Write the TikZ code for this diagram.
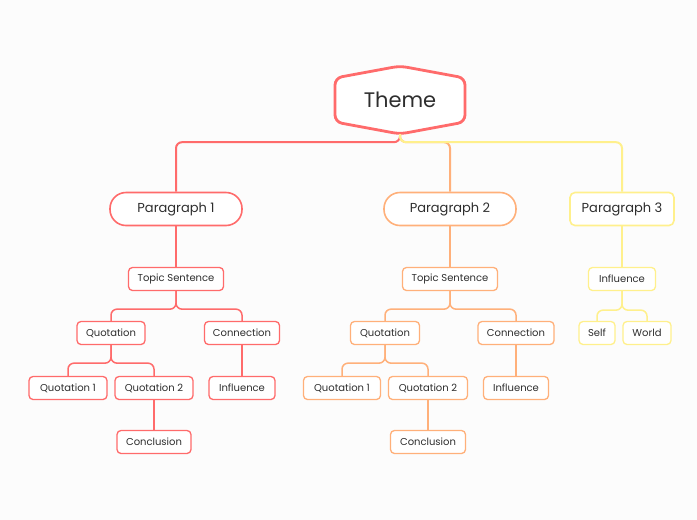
\documentclass[tikz,border=0pt]{standalone}
\usepackage{fontspec}
\setmainfont{Poppins}
\usetikzlibrary{calc}

\definecolor{themered}{HTML}{FF6B6B}
\definecolor{parorange}{HTML}{FFB07A}
\definecolor{paryellow}{HTML}{FFF08C}
\definecolor{inktext}{HTML}{2E2E2E}
\definecolor{canvas}{HTML}{FCFCFC}

\tikzset{
  topic/.style={fill=white, line width=1.6pt, rounded corners=16pt, minimum width=132pt,
    minimum height=33pt, font=\fontsize{13}{15}\selectfont, text=inktext},
  leaf/.style={fill=white, line width=1.3pt, rounded corners=4pt, minimum height=23pt,
    inner xsep=2pt, font=\fontsize{10}{12}\selectfont, text=inktext},
  branch/.style={rounded corners=6pt, line width=1.5pt},
}

\begin{document}
\begin{tikzpicture}[x=1pt,y=-1pt]
  \fill[canvas] (0,0) rectangle (697,520);
  \useasboundingbox (0,0) rectangle (697,520);

  % central theme
  \draw[themered, line width=2.8pt, rounded corners=7pt, fill=white]
    (335,78) -- (400,66) -- (465,78) -- (465,122) -- (400,134) -- (335,122) -- cycle;
  \node[minimum width=130pt, minimum height=68pt, font=\fontsize{21}{24}\selectfont, text=inktext]
    (theme) at (400,100) {Theme};

  % paragraphs
  \node[topic, draw=themered] (p1) at (176,209) {Paragraph 1};
  \node[topic, draw=parorange] (p2) at (450,209) {Paragraph 2};
  \node[topic, draw=paryellow, rounded corners=5pt, minimum width=104pt] (p3) at (622,209) {Paragraph 3};

  \draw[branch, themered, line width=2pt] (theme.south) -- ++(0,8) -| (p1.north);
  \draw[branch, parorange, line width=2pt] (theme.south) -- ++(0,8) -| (p2.north);
  \draw[branch, paryellow, line width=2pt] (theme.south) -- ++(0,8) -| (p3.north);

  % paragraph 1
  \node[leaf, draw=themered, minimum width=95pt] (ts1) at (176,279) {Topic Sentence};
  \node[leaf, draw=themered, minimum width=68pt] (qu1) at (111,333) {Quotation};
  \node[leaf, draw=themered, minimum width=75pt] (cn1) at (242,333) {Connection};
  \node[leaf, draw=themered, minimum width=78pt] (qa1) at (68,388) {Quotation 1};
  \node[leaf, draw=themered, minimum width=78pt] (qb1) at (154,388) {Quotation 2};
  \node[leaf, draw=themered, minimum width=66pt] (in1) at (242,388) {Influence};
  \node[leaf, draw=themered, minimum width=74pt] (co1) at (154,442) {Conclusion};

  \draw[branch, themered] (p1.south) -- (ts1.north);
  \draw[branch, themered] (ts1.south) -- ++(0,18) -| (qu1.north);
  \draw[branch, themered] (ts1.south) -- ++(0,18) -| (cn1.north);
  \draw[branch, themered] (qu1.south) -- ++(0,18) -| (qa1.north);
  \draw[branch, themered] (qu1.south) -- ++(0,18) -| (qb1.north);
  \draw[branch, themered] (qb1.south) -- (co1.north);
  \draw[branch, themered] (cn1.south) -- (in1.north);

  % paragraph 2
  \node[leaf, draw=parorange, minimum width=95pt] (ts2) at (450,279) {Topic Sentence};
  \node[leaf, draw=parorange, minimum width=69pt] (qu2) at (385,333) {Quotation};
  \node[leaf, draw=parorange, minimum width=76pt] (cn2) at (516,333) {Connection};
  \node[leaf, draw=parorange, minimum width=77pt] (qa2) at (342,388) {Quotation 1};
  \node[leaf, draw=parorange, minimum width=79pt] (qb2) at (428,388) {Quotation 2};
  \node[leaf, draw=parorange, minimum width=65pt] (in2) at (516,388) {Influence};
  \node[leaf, draw=parorange, minimum width=75pt] (co2) at (428,442) {Conclusion};

  \draw[branch, parorange] (p2.south) -- (ts2.north);
  \draw[branch, parorange] (ts2.south) -- ++(0,18) -| (qu2.north);
  \draw[branch, parorange] (ts2.south) -- ++(0,18) -| (cn2.north);
  \draw[branch, parorange] (qu2.south) -- ++(0,18) -| (qa2.north);
  \draw[branch, parorange] (qu2.south) -- ++(0,18) -| (qb2.north);
  \draw[branch, parorange] (qb2.south) -- (co2.north);
  \draw[branch, parorange] (cn2.south) -- (in2.north);

  % paragraph 3
  \node[leaf, draw=paryellow, minimum width=67pt] (in3) at (622,279) {Influence};
  \node[leaf, draw=paryellow, minimum width=36pt] (se3) at (597,333) {Self};
  \node[leaf, draw=paryellow, minimum width=48pt] (wo3) at (647,333) {World};

  \draw[branch, paryellow] (p3.south) -- (in3.north);
  \draw[branch, paryellow] (in3.south) -- ++(0,19) -| (se3.north);
  \draw[branch, paryellow] (in3.south) -- ++(0,19) -| (wo3.north);
\end{tikzpicture}
\end{document}
